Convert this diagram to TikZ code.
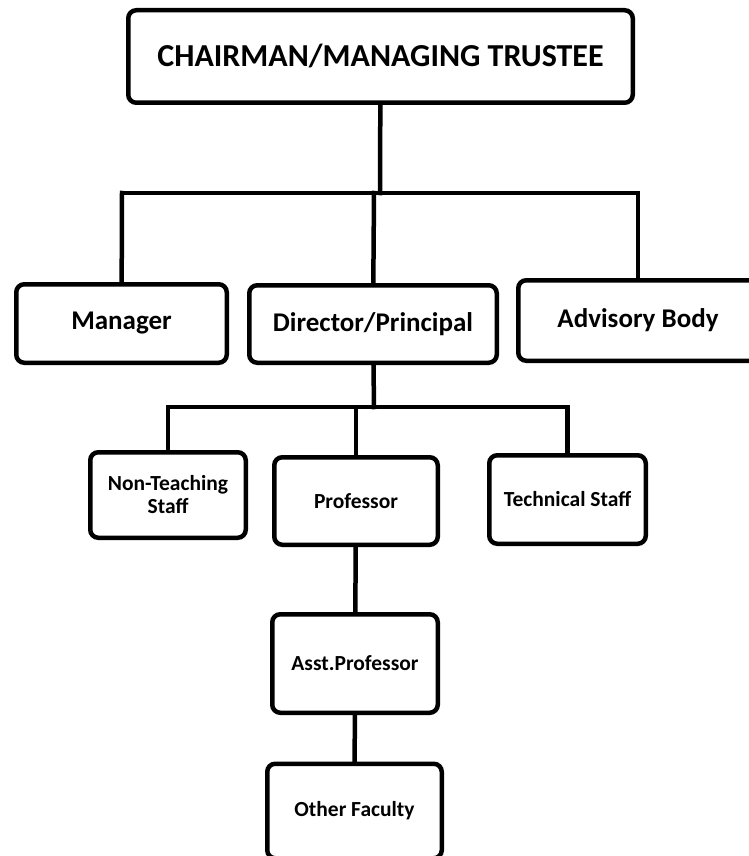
\documentclass[tikz,border=0pt]{standalone}
\usepackage{fontspec}
\setmainfont{Carlito}
\begin{document}
\begin{tikzpicture}[x=1pt,y=-1pt]

\tikzstyle{box} = [rectangle,draw=black,line width=4.5pt,rounded corners=8pt,inner sep=0pt,align=center,fill=white];%
\tikzstyle{big} = [box,font=\fontsize{32}{36}\selectfont\bfseries];
\tikzstyle{mid} = [box,font=\fontsize{27}{31}\selectfont\bfseries];
\tikzstyle{small} = [box,font=\fontsize{21.5}{23}\selectfont\bfseries];
\tikzstyle{wire} = [-,line width=4.5pt,line cap=rect];

\useasboundingbox (0,0) rectangle (748,856);

\node[big,minimum width=504.5pt,minimum height=92.5pt] at (380.5,56.5) (chair) {CHAIRMAN/MANAGING TRUSTEE};

\node[mid,minimum width=210.5pt,minimum height=78.5pt] at (121.5,323.5) (manager) {Manager};
\node[mid,minimum width=247.5pt,minimum height=77.5pt] at (373,324) (director) {Director/Principal};
\node[mid,minimum width=239.5pt,minimum height=80.5pt] at (638,320.5) (advisory) {Advisory Body};

\node[small,minimum width=155.5pt,minimum height=85.5pt] at (168,495) (nonteach) {Non-Teaching\\Staff};
\node[small,minimum width=163.5pt,minimum height=87.5pt] at (356,501) (prof) {Professor};
\node[small,minimum width=156.5pt,minimum height=88.5pt] at (567.5,499.5) (tech) {Technical Staff};

\node[small,minimum width=165.5pt,minimum height=98.5pt] at (355,663.5) (asst) {Asst.Professor};
\node[small,minimum width=174.5pt,minimum height=94.5pt] at (354.5,811) (other) {Other Faculty};

% first level
\coordinate (j1) at (380,193);
\coordinate (j1l) at (122,193);
\coordinate (j1m) at (374,193);
\coordinate (j1r) at (638,193);
\path (chair) edge[wire] (j1);
\path (j1l) edge[wire] (j1r);
\path (j1l) edge[wire] (manager);
\path (j1m) edge[wire] (director);
\path (j1r) edge[wire] (advisory);

% second level
\coordinate (j2) at (374,407);
\coordinate (j2l) at (168,407);
\coordinate (j2m) at (356,407);
\coordinate (j2r) at (567.5,407);
\path (director) edge[wire] (j2);
\path (j2l) edge[wire] (j2r);
\path (j2l) edge[wire] (nonteach);
\path (j2m) edge[wire] (prof);
\path (j2r) edge[wire] (tech);

\path (prof) edge[wire] (asst);
\path (asst) edge[wire] (other);

\end{tikzpicture}
\end{document}
